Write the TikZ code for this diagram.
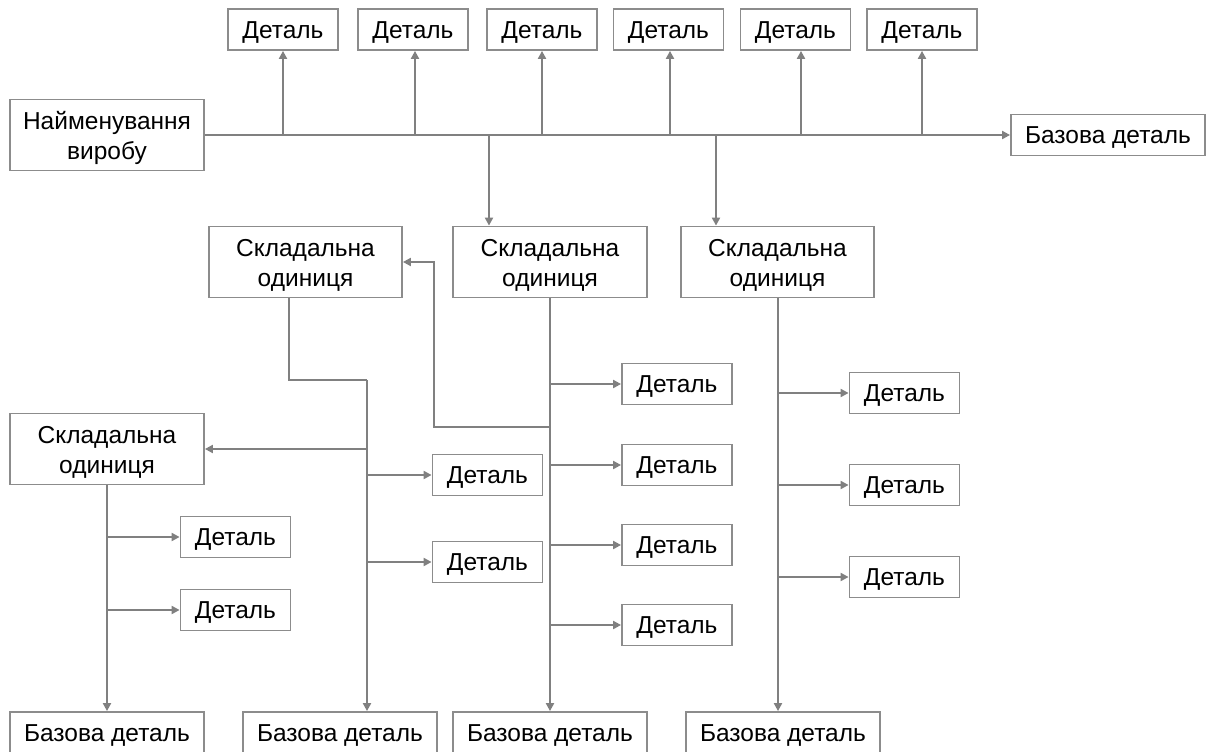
\documentclass[tikz,border=0pt]{standalone}
\usepackage{fontspec}
\setmainfont{Liberation Sans}
\usetikzlibrary{arrows.meta,calc}
\definecolor{linec}{RGB}{128,128,128}
\definecolor{boxc}{RGB}{140,140,140}
\tikzset{
  box/.style={draw=boxc, line width=1.8pt, rectangle, inner sep=0pt,
    font=\fontsize{24.5}{30}\selectfont, text=black},
  dbox/.style={box, minimum width=110pt, minimum height=41pt, text height=17.5pt, text depth=0pt},
  bbox/.style={box, minimum width=194pt, minimum height=41pt, text height=17.5pt, text depth=0pt},
  sbox/.style={box, align=center, minimum width=194pt, minimum height=71pt, text height=48.6pt, text depth=0pt},
  conn/.style={draw=linec, line width=2pt},
  arr/.style={conn, -{Triangle[length=8pt,width=8pt]}},
}
\begin{document}
\begin{tikzpicture}[x=1pt,y=-1pt]
\useasboundingbox (0,0) rectangle (1208,752);
% top
\node[sbox] (prod) at (107,135) {Найменування\\виробу};
\node[dbox] (d1) at (283,29.5) {Деталь};
\node[dbox] (d2) at (413,29.5) {Деталь};
\node[dbox] (d3) at (542,29.5) {Деталь};
\node[dbox] (d4) at (668.5,29.5) {Деталь};
\node[dbox] (d5) at (795.5,29.5) {Деталь};
\node[dbox] (d6) at (922,29.5) {Деталь};
\node[bbox] (b0) at (1108,135) {Базова деталь};
% assemblies
\node[sbox, minimum width=193pt] (s1) at (305.5,262) {Складальна\\одиниця};
\node[sbox] (s2) at (550,262) {Складальна\\одиниця};
\node[sbox, minimum width=193pt] (s3) at (777.5,262) {Складальна\\одиниця};
\node[sbox] (s4) at (107,449) {Складальна\\одиниця};
% details of s2
\node[dbox] (e1) at (677,384) {Деталь};
\node[dbox] (e2) at (677,465) {Деталь};
\node[dbox] (e3) at (677,545) {Деталь};
\node[dbox] (e4) at (677,625) {Деталь};
% details of s1
\node[dbox] (f1) at (487.5,475) {Деталь};
\node[dbox] (f2) at (487.5,562) {Деталь};
% details of s4
\node[dbox] (g1) at (235.5,537) {Деталь};
\node[dbox] (g2) at (235.5,610) {Деталь};
% details of s3
\node[dbox] (h1) at (904.5,393) {Деталь};
\node[dbox] (h2) at (904.5,485) {Деталь};
\node[dbox] (h3) at (904.5,577) {Деталь};
% base parts
\node[bbox] (b1) at (107,732.5) {Базова деталь};
\node[bbox] (b2) at (340,732.5) {Базова деталь};
\node[bbox] (b3) at (550,732.5) {Базова деталь};
\node[bbox] (b4) at (783,732.5) {Базова деталь};

% main line
\draw[arr] (prod.east) -- (b0.west);
\draw[arr] (d1.south |- prod.east) -- (d1.south);
\draw[arr] ([xshift=2pt]d2.south |- prod.east) -- ([xshift=2pt]d2.south);
\draw[arr] (d3.south |- prod.east) -- (d3.south);
\draw[arr] ([xshift=1.5pt]d4.south |- prod.east) -- ([xshift=1.5pt]d4.south);
\draw[arr] ([xshift=5.5pt]d5.south |- prod.east) -- ([xshift=5.5pt]d5.south);
\draw[arr] (d6.south |- prod.east) -- (d6.south);
\draw[arr] ([xshift=-61pt]s2.north |- prod.east) -- ([xshift=-61pt]s2.north);
\draw[arr] ([xshift=-61.5pt]s3.north |- prod.east) -- ([xshift=-61.5pt]s3.north);

% s2 trunk
\draw[arr] (s2.south) -- (b3.north);
\draw[arr] (s2.south |- e1.west) -- (e1.west);
\draw[arr] (s2.south |- e2.west) -- (e2.west);
\draw[arr] (s2.south |- e3.west) -- (e3.west);
\draw[arr] (s2.south |- e4.west) -- (e4.west);
\coordinate (k1) at (434,427);
\draw[arr] (s2.south |- k1) -- (k1) |- (s1.east);

% s1 trunk
\coordinate (t1) at (367,380);
\draw[conn] ([xshift=-16.5pt]s1.south) |- (t1);
\draw[arr] (t1) -- ([xshift=27pt]b2.north);
\draw[arr] (t1 |- s4.east) -- (s4.east);
\draw[arr] (t1 |- f1.west) -- (f1.west);
\draw[arr] (t1 |- f2.west) -- (f2.west);

% s4 trunk
\draw[arr] (s4.south) -- (b1.north);
\draw[arr] (s4.south |- g1.west) -- (g1.west);
\draw[arr] (s4.south |- g2.west) -- (g2.west);

% s3 trunk
\coordinate (t3) at (778,297.5);
\draw[arr] (t3) -- (t3 |- b4.north);
\draw[arr] (t3 |- h1.west) -- (h1.west);
\draw[arr] (t3 |- h2.west) -- (h2.west);
\draw[arr] (t3 |- h3.west) -- (h3.west);
\end{tikzpicture}
\end{document}
